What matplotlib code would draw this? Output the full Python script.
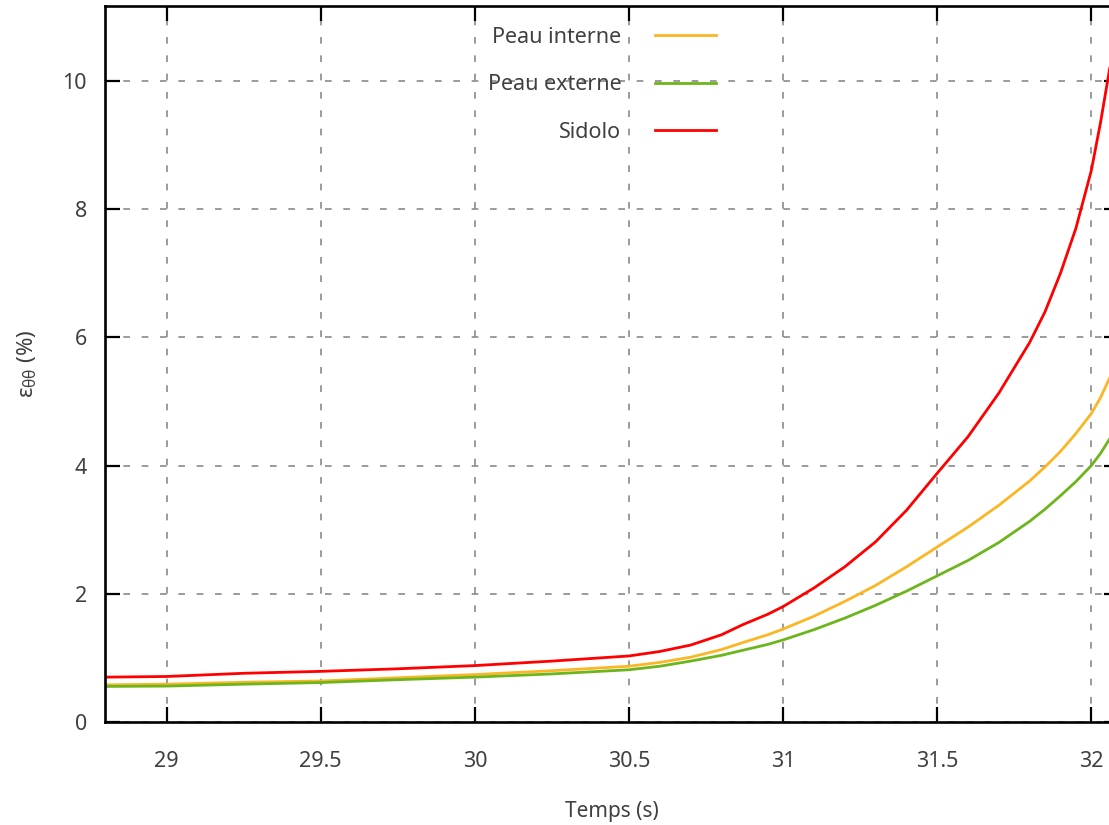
import numpy as np
import matplotlib.pyplot as plt

# --- data ---
temps = [28.8, 29.0, 29.25, 29.5, 29.75, 30.0, 30.25, 30.5, 30.6, 30.7, 30.8,
         30.87, 30.95, 31.0, 31.1, 31.2, 31.3, 31.4, 31.5, 31.6, 31.7, 31.8,
         31.85, 31.9, 31.95, 32.0, 32.03, 32.06]
peau_interne = [0.58, 0.59, 0.62, 0.64, 0.69, 0.74, 0.80, 0.87, 0.93, 1.01, 1.13,
                1.24, 1.36, 1.45, 1.65, 1.88, 2.13, 2.42, 2.73, 3.04, 3.38, 3.76,
                3.98, 4.22, 4.50, 4.81, 5.06, 5.37]
peau_externe = [0.555, 0.56, 0.59, 0.615, 0.66, 0.70, 0.75, 0.815, 0.87, 0.95, 1.04,
                1.12, 1.21, 1.28, 1.44, 1.62, 1.82, 2.04, 2.28, 2.52, 2.80, 3.13,
                3.32, 3.53, 3.75, 4.0, 4.19, 4.42]
sidolo = [0.70, 0.71, 0.76, 0.79, 0.83, 0.88, 0.95, 1.03, 1.10, 1.20, 1.36,
          1.52, 1.68, 1.80, 2.09, 2.42, 2.81, 3.30, 3.88, 4.45, 5.13, 5.92,
          6.40, 7.00, 7.70, 8.60, 9.35, 10.2]

labels = ["Peau interne", "Peau externe", "Sidolo"]
colors = ["#fbb624", "#6cb51c", "#ff0000"]
xticks = [29, 29.5, 30, 30.5, 31, 31.5, 32]
yticks = [0, 2, 4, 6, 8, 10]

txt = "#404040"
plt.rcParams['font.family'] = ['Noto Sans', 'DejaVu Sans']
plt.rcParams['mathtext.fontset'] = 'custom'
plt.rcParams['mathtext.rm'] = 'Noto Sans'
plt.rcParams['mathtext.it'] = 'Noto Sans'

fig = plt.figure(figsize=(11.09, 8.25), dpi=100)
ax = fig.add_axes([105 / 1109, 103 / 825, 1014 / 1109, 716 / 825])

for y, lab, c in zip([peau_interne, peau_externe, sidolo], labels, colors):
    ax.plot(temps, y, color=c, lw=2.0, label=lab)

ax.set_xlim(28.8, 32.09)
ax.set_ylim(0, 11.17)
ax.set_xticks(xticks)
ax.set_xticklabels(["29", "29.5", "30", "30.5", "31", "31.5", "32"])
ax.set_yticks(yticks)

ax.grid(True, color="#8a8a8a", lw=1.2, linestyle=(0, (4, 7)))
ax.tick_params(direction='in', length=11, width=1.6, top=True, right=True,
               labelsize=15.5, labelcolor=txt)
ax.tick_params(axis='x', pad=21)
ax.tick_params(axis='y', pad=13)
for s in ax.spines.values():
    s.set_linewidth(1.9)

ax.set_xlabel("Temps (s)", fontsize=15, color=txt, labelpad=21)
ax.set_ylabel(r"$\mathrm{\varepsilon_{\theta\theta}}$ (%)", fontsize=16, color=txt, labelpad=17)

leg = ax.legend(loc='upper right', bbox_to_anchor=(716 / 1109, 1 - 27 / 825),
                bbox_transform=fig.transFigure, frameon=False, markerfirst=False,
                fontsize=15.5, handlelength=2.85, handletextpad=1.55,
                labelspacing=1.23, borderpad=0, borderaxespad=0)
for t in leg.get_texts():
    t.set_color(txt)

plt.savefig("out.png", dpi=100)
